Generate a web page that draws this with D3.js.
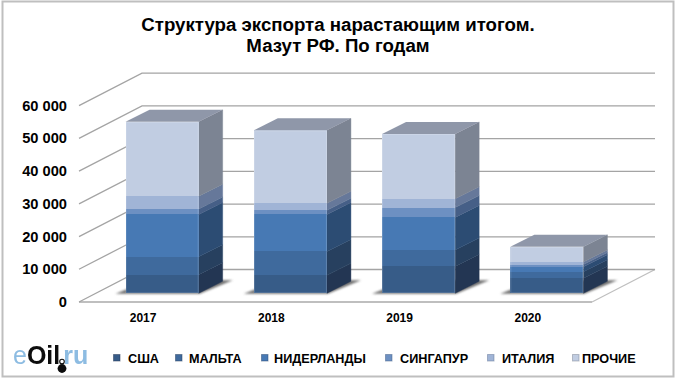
<!DOCTYPE html>
<html>
<head>
<meta charset="utf-8">
<script src="https://cdn.jsdelivr.net/npm/d3@7"></script>
<style>
    html, body { margin: 0; padding: 0; background: #fff; }
    svg { display: block; }
    text { font-family: "Liberation Sans", Arial, sans-serif; font-weight: bold; fill: #000; }
</style>
</head>
<body>
<main></main>
<script>
const years = ["2017", "2018", "2019", "2020"];
const countries = ["США", "МАЛЬТА", "НИДЕРЛАНДЫ", "СИНГАПУР", "ИТАЛИЯ", "ПРОЧИЕ"];
const usa = [5700, 5500, 8200, 4600];
const malta = [5500, 7300, 5000, 2000];
const netherlands = [12900, 11300, 10000, 1500];
const singapore = [1700, 1300, 3000, 700];
const italy = [3900, 2100, 2700, 800];
const other = [22700, 22300, 19800, 4600];
const yTicks = [0, 10000, 20000, 30000, 40000, 50000, 60000];

const frontColors = ["#375c88", "#3f6a9d", "#4779b4", "#6d90c2", "#a0b4d6", "#c1cde2"];
const sideColors = ["#233653", "#27405f", "#2c4c73", "#465f87", "#66789a", "#7c8493"];
const topColor = "#8f97a9";
const gridColor = "#a4a4a4";
const frameColor = "#bfbfbf";

const width = 680;
const height = 384;

// floor corners come from these: front edge + how far the back wall is shifted
const floorLeft = 79;
const floorRight = 592;
const wallDx = 63;
const wallDy = -32.5;
// bars stand a bit behind the front edge of the floor
const barDx = 19;
const barDy = -8.7;
const depthDx = 24;
const depthDy = -12;

const legendX = [113, 175, 261, 385, 487, 572];
const legendTextX = [128, 189, 274, 400, 502, 582];

const svg = d3.select("main")
    .append("svg")
        .attr("width", width)
        .attr("height", height);

const defs = svg.append("defs");
defs.append("filter").attr("id", "soft")
    .attr("x", "-20%").attr("y", "-40%").attr("width", "140%").attr("height", "180%")
    .append("feGaussianBlur").attr("stdDeviation", 1.2);
defs.append("filter").attr("id", "logo-blur")
    .append("feGaussianBlur").attr("stdDeviation", 0.5);

svg.append("rect")
    .attr("x", 2.5).attr("y", 1.5)
    .attr("width", 671).attr("height", 375)
    .attr("fill", "#fff")
    .attr("stroke", frameColor)
    .attr("stroke-width", 2);

const x = d3.scaleBand()
    .domain(years)
    .range([floorLeft, floorRight])
    .paddingInner(0.43)
    .paddingOuter(0.215);
const y = d3.scaleLinear()
    .domain([0, 60000])
    .range([302, 105.7]);

const poly = pts => pts.map(p => p.join(",")).join(" ");

// floor and walls
const walls = svg.append("g");
walls.append("polygon")
    .attr("points", poly([
        [floorLeft, y(0)], [floorRight, y(0)],
        [floorRight + wallDx, y(0) + wallDy], [floorLeft + wallDx, y(0) + wallDy]
    ]))
    .attr("fill", "#fff");
walls.append("line")
    .attr("x1", floorRight).attr("y1", y(0))
    .attr("x2", floorRight + wallDx).attr("y2", y(0) + wallDy)
    .attr("stroke", frameColor).attr("stroke-width", 1.3);
walls.append("line")
    .attr("x1", floorLeft).attr("y1", y(0))
    .attr("x2", floorRight).attr("y2", y(0))
    .attr("stroke", frameColor).attr("stroke-width", 2.2);

walls.selectAll("path.grid")
    .data(yTicks)
    .join("path")
        .attr("class", "grid")
        .attr("fill", "none")
        .attr("stroke", gridColor)
        .attr("stroke-width", 1.3)
        .attr("d", d => `M${floorLeft},${y(d)}L${floorLeft + wallDx},${y(d) + wallDy}L${floorRight + wallDx},${y(d) + wallDy}`);

// y labels
svg.append("g")
    .selectAll("text")
    .data(yTicks)
    .join("text")
        .attr("x", 67)
        .attr("y", d => y(d) + 5)
        .attr("text-anchor", "end")
        .style("font-size", "14.67px")
        .text(d => d3.format(",")(d).replace(/,/g, " "));

// x labels
svg.append("g")
    .selectAll("text")
    .data(years)
    .join("text")
        .attr("x", d => x(d) + x.bandwidth() / 2)
        .attr("y", 322)
        .attr("text-anchor", "middle")
        .style("font-size", "12px")
        .text(d => d);

// stacked bars
const rows = years.map((year, i) => ({
    year,
    "США": usa[i],
    "МАЛЬТА": malta[i],
    "НИДЕРЛАНДЫ": netherlands[i],
    "СИНГАПУР": singapore[i],
    "ИТАЛИЯ": italy[i],
    "ПРОЧИЕ": other[i]
}));
const series = d3.stack().keys(countries)(rows);

const left = year => x(year) + barDx;
const right = year => left(year) + x.bandwidth();
const level = v => y(v) + barDy;

// shadows on the floor
svg.append("g")
    .selectAll("polygon")
    .data(years)
    .join("polygon")
        .attr("points", d => poly([
            [left(d) - 10, level(0) + 0.5],
            [right(d) + 1, level(0) + 0.5],
            [right(d) + depthDx + 10, level(0) + depthDy - 1],
            [left(d) + depthDx, level(0) + depthDy - 1]
        ]))
        .attr("fill", "#707070")
        .attr("filter", "url(#soft)");

const bars = svg.append("g");

series.forEach((s, i) => {
    const g = bars.append("g");
    // side, stroked in its own colour so no seam shows between segments
    g.selectAll("polygon")
        .data(s)
        .join("polygon")
            .attr("points", d => {
                const r = right(d.data.year);
                return poly([
                    [r, level(d[0])], [r + depthDx, level(d[0]) + depthDy],
                    [r + depthDx, level(d[1]) + depthDy], [r, level(d[1])]
                ]);
            })
            .attr("fill", sideColors[i])
            .attr("stroke", sideColors[i])
            .attr("stroke-width", 0.4);
    // front
    g.selectAll("rect")
        .data(s)
        .join("rect")
            .attr("x", d => left(d.data.year))
            .attr("y", d => level(d[1]))
            .attr("width", x.bandwidth())
            .attr("height", d => level(d[0]) - level(d[1]))
            .attr("fill", frontColors[i])
            .attr("shape-rendering", "crispEdges");
});

// top faces and the lighter bevel round the front
const last = series[series.length - 1];
bars.append("g")
    .selectAll("polygon")
    .data(last)
    .join("polygon")
        .attr("points", d => {
            const l = left(d.data.year);
            const r = right(d.data.year);
            const t = level(d[1]);
            return poly([[l, t], [r, t], [r + depthDx, t + depthDy], [l + depthDx, t + depthDy]]);
        })
        .attr("fill", topColor);
bars.append("g")
    .selectAll("rect")
    .data(last)
    .join("rect")
        .attr("x", d => left(d.data.year) + 0.5)
        .attr("y", d => level(d[1]) + 0.5)
        .attr("width", x.bandwidth() - 1)
        .attr("height", d => level(0) - level(d[1]) - 1)
        .attr("fill", "none")
        .attr("stroke", "#fff")
        .attr("stroke-opacity", 0.18);

// title
const title = svg.append("text")
    .attr("text-anchor", "middle")
    .style("font-size", "18.67px");
title.append("tspan").attr("x", 338).attr("y", 31).text("Структура экспорта нарастающим итогом.");
title.append("tspan").attr("x", 338).attr("y", 52).text("Мазут РФ. По годам");

// legend
const legend = svg.append("g")
    .selectAll("g")
    .data(countries)
    .join("g");
legend.append("rect")
    .attr("x", (d, i) => legendX[i] + 0.5)
    .attr("y", 354.5)
    .attr("width", 6.5)
    .attr("height", 6.5)
    .attr("fill", (d, i) => frontColors[i])
    .attr("stroke", (d, i) => sideColors[i])
    .attr("stroke-opacity", 0.5);
legend.append("text")
    .attr("x", (d, i) => legendTextX[i])
    .attr("y", 363)
    .style("font-size", "12.67px")
    .text(d => d);

// site logo
const logo = svg.append("g").attr("filter", "url(#logo-blur)");
const logoText = logo.append("text")
    .attr("x", 13)
    .attr("y", 364)
    .style("font-size", "25px");
logoText.append("tspan").style("fill", "#8dbce2").style("font-weight", "normal").text("e");
logoText.append("tspan").style("fill", "#111").text("Oil");
logoText.append("tspan").attr("dx", 3).style("fill", "#8dbce2").text("ru");
logo.append("circle")
    .attr("cx", 62).attr("cy", 368.5).attr("r", 4.4)
    .attr("fill", "#111");
logo.append("circle")
    .attr("cx", 62).attr("cy", 361.5).attr("r", 2.3)
    .attr("fill", "none")
    .attr("stroke", "#111")
    .attr("stroke-width", 1.1);
</script>
</body>
</html>
